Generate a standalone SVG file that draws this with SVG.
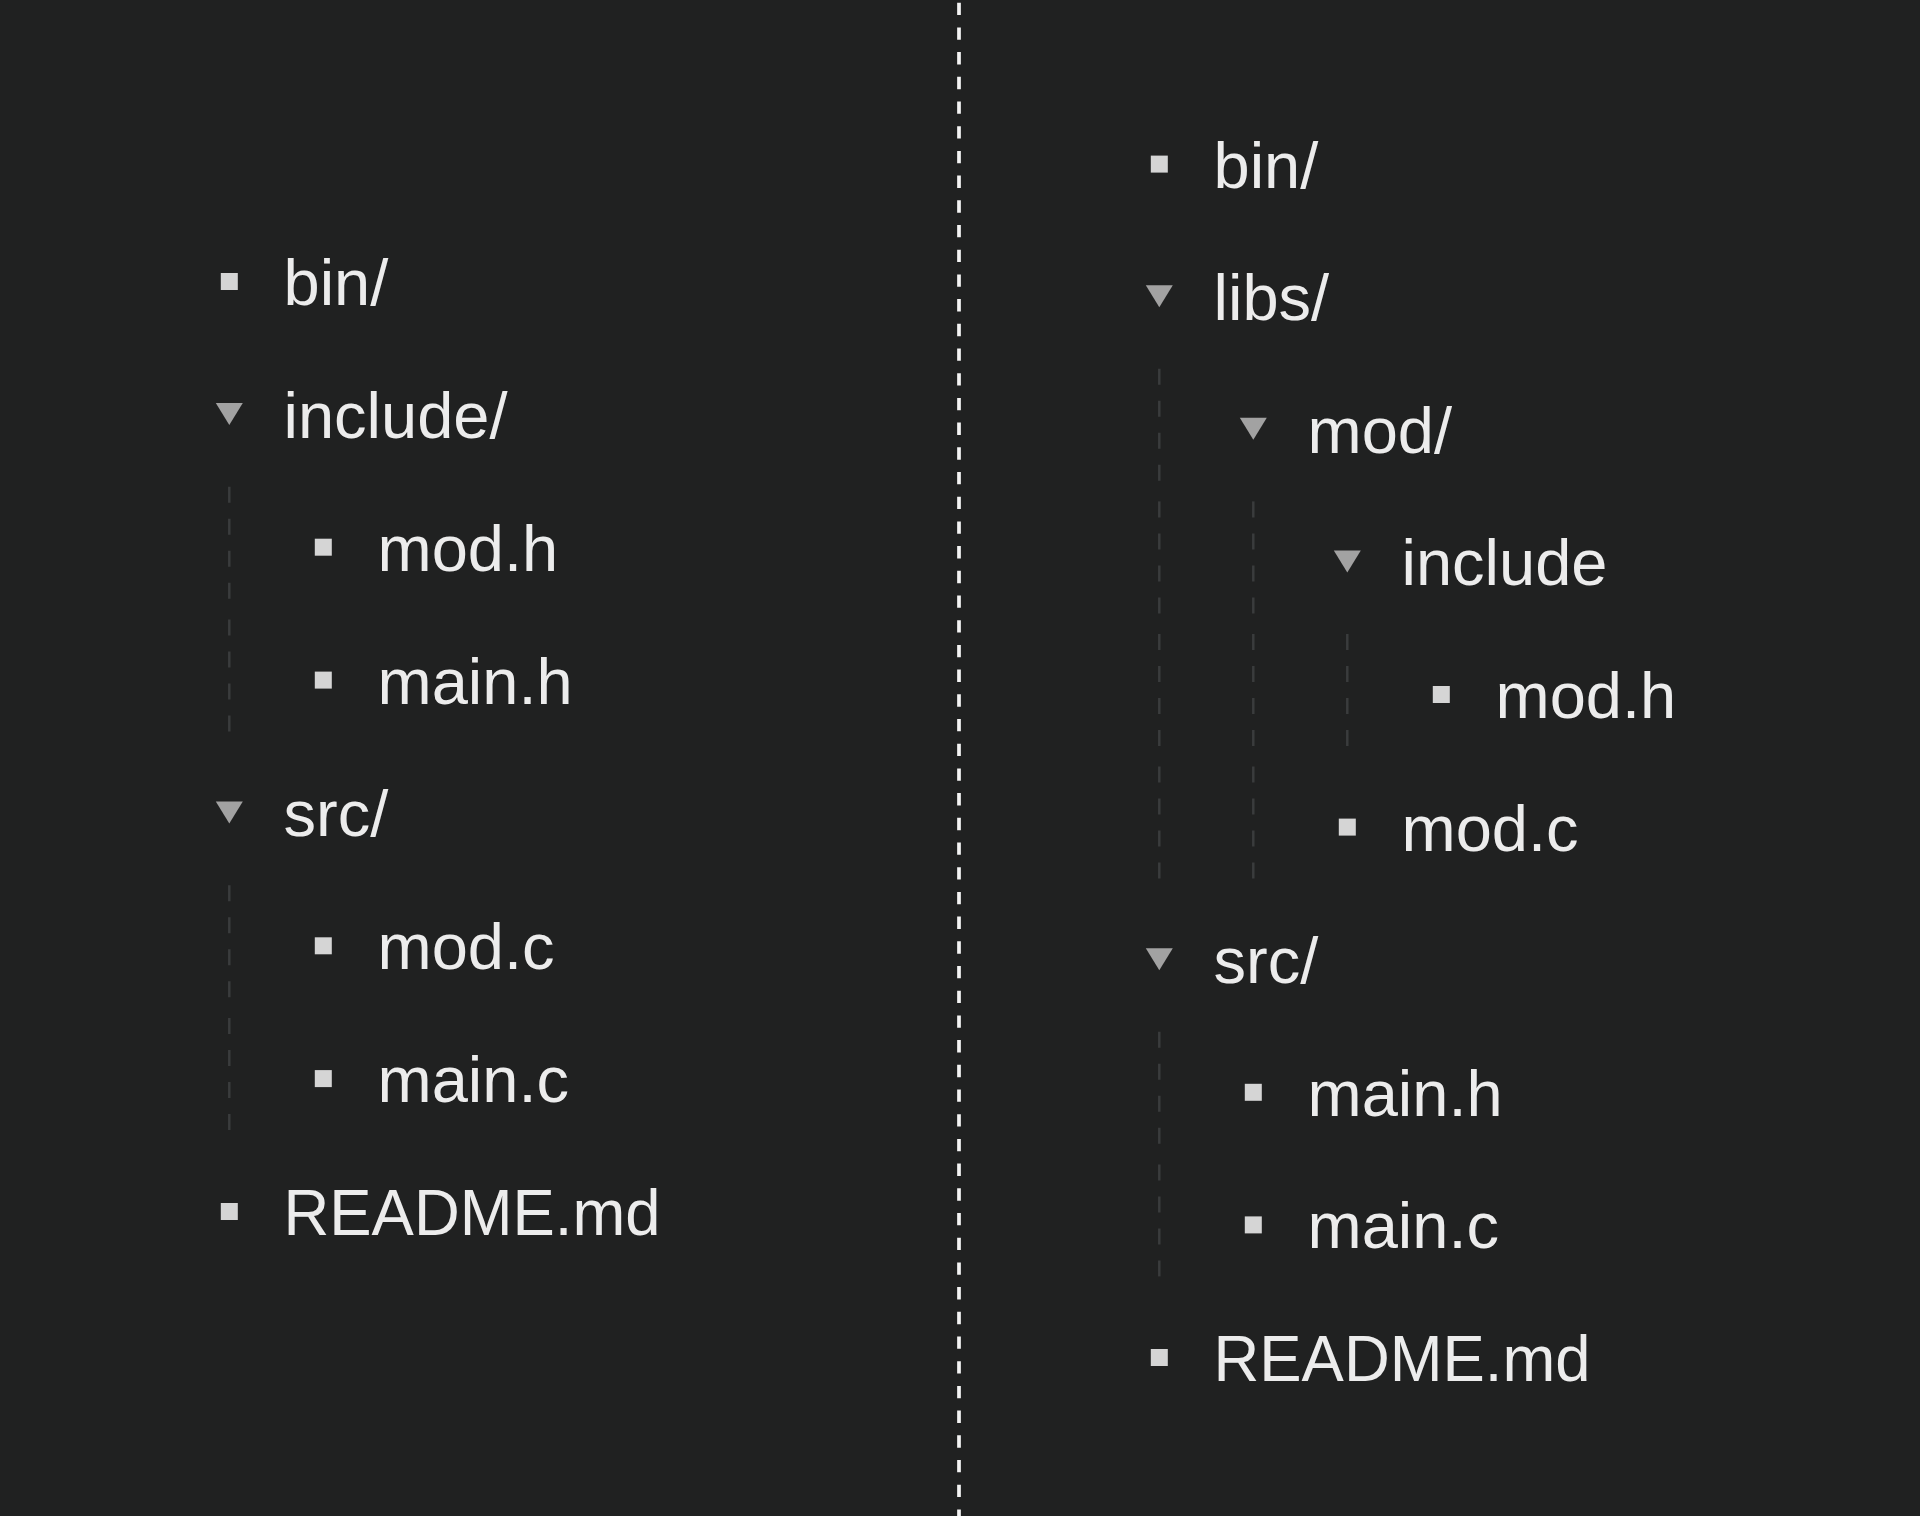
<svg xmlns="http://www.w3.org/2000/svg" width="1920" height="1516" viewBox="0 0 1920 1516">
  <style>
    .lbl { font-family: "Liberation Sans", Arial, sans-serif; font-size: 65px; fill: #ececec; }
    .file { fill: #d5d5d5; }
    .dir { fill: #a2a2a2; }
    .guide { stroke: #3a3c3d; stroke-width: 2.5; stroke-dasharray: 16 16; stroke-dashoffset: 24; fill: none; }
    .sep { stroke: #f4f4f4; stroke-width: 3.7; stroke-dasharray: 12.35 12.35; stroke-dashoffset: 22; }
  </style>
  <rect x="0" y="0" width="1920" height="1516" fill="#202121"/>

  <g id="divider">
    <line class="sep" x1="959" y1="0" x2="959" y2="1516"/>
  </g>

  <g id="connectors">
    <!-- left: include/ children -->
    <line class="guide" x1="229.3" y1="478.7" x2="229.3" y2="610.7"/>
    <line class="guide" x1="229.3" y1="611.6" x2="229.3" y2="743.6"/>
    <!-- left: src/ children -->
    <line class="guide" x1="229.3" y1="877.3" x2="229.3" y2="1009.3"/>
    <line class="guide" x1="229.3" y1="1010.1" x2="229.3" y2="1142.1"/>
    <!-- right: libs/ subtree -->
    <line class="guide" x1="1159.3" y1="360.8" x2="1159.3" y2="492.8"/>
    <line class="guide" x1="1159.3" y1="493.4" x2="1159.3" y2="625.4"/>
    <line class="guide" x1="1159.3" y1="626" x2="1159.3" y2="758"/>
    <line class="guide" x1="1159.3" y1="758.6" x2="1159.3" y2="890.6"/>
    <!-- right: mod/ subtree -->
    <line class="guide" x1="1253.3" y1="493.4" x2="1253.3" y2="625.4"/>
    <line class="guide" x1="1253.3" y1="626" x2="1253.3" y2="758"/>
    <line class="guide" x1="1253.3" y1="758.6" x2="1253.3" y2="890.6"/>
    <!-- right: include subtree -->
    <line class="guide" x1="1347.3" y1="626" x2="1347.3" y2="758"/>
    <!-- right: src/ subtree -->
    <line class="guide" x1="1159.3" y1="1023.8" x2="1159.3" y2="1155.8"/>
    <line class="guide" x1="1159.3" y1="1156.4" x2="1159.3" y2="1288.4"/>
  </g>

  <!-- Left tree -->
  <g id="left-bin">
    <rect class="file" x="220.8" y="273" width="17" height="17"/>
    <text class="lbl" x="283.5" y="305">bin/</text>
  </g>
  <g id="left-include">
    <polygon class="dir" points="215.8,402.9 242.8,402.9 229.3,424.9"/>
    <text class="lbl" x="283.5" y="437.9">include/</text>
  </g>
  <g id="left-include-mod-h">
    <rect class="file" x="314.8" y="538.7" width="17" height="17"/>
    <text class="lbl" x="377.5" y="570.7">mod.h</text>
  </g>
  <g id="left-include-main-h">
    <rect class="file" x="314.8" y="671.6" width="17" height="17"/>
    <text class="lbl" x="377.5" y="703.6">main.h</text>
  </g>
  <g id="left-src">
    <polygon class="dir" points="215.8,801.4 242.8,801.4 229.3,823.4"/>
    <text class="lbl" x="283.5" y="836.4">src/</text>
  </g>
  <g id="left-src-mod-c">
    <rect class="file" x="314.8" y="937.3" width="17" height="17"/>
    <text class="lbl" x="377.5" y="969.3">mod.c</text>
  </g>
  <g id="left-src-main-c">
    <rect class="file" x="314.8" y="1070.1" width="17" height="17"/>
    <text class="lbl" x="377.5" y="1102.1">main.c</text>
  </g>
  <g id="left-readme">
    <rect class="file" x="220.8" y="1203" width="17" height="17"/>
    <text class="lbl" x="283.5" y="1235" textLength="377" lengthAdjust="spacingAndGlyphs">README.md</text>
  </g>

  <!-- Right tree -->
  <g id="right-bin">
    <rect class="file" x="1150.8" y="155.6" width="17" height="17"/>
    <text class="lbl" x="1213.5" y="187.6">bin/</text>
  </g>
  <g id="right-libs">
    <polygon class="dir" points="1145.8,285.2 1172.8,285.2 1159.3,307.2"/>
    <text class="lbl" x="1213.5" y="320.2">libs/</text>
  </g>
  <g id="right-libs-mod">
    <polygon class="dir" points="1239.8,417.8 1266.8,417.8 1253.3,439.8"/>
    <text class="lbl" x="1307.5" y="452.8">mod/</text>
  </g>
  <g id="right-libs-mod-include">
    <polygon class="dir" points="1333.8,550.4 1360.8,550.4 1347.3,572.4"/>
    <text class="lbl" x="1401.5" y="585.4">include</text>
  </g>
  <g id="right-libs-mod-include-mod-h">
    <rect class="file" x="1432.8" y="686" width="17" height="17"/>
    <text class="lbl" x="1495.5" y="718">mod.h</text>
  </g>
  <g id="right-libs-mod-mod-c">
    <rect class="file" x="1338.8" y="818.6" width="17" height="17"/>
    <text class="lbl" x="1401.5" y="850.6">mod.c</text>
  </g>
  <g id="right-src">
    <polygon class="dir" points="1145.8,948.2 1172.8,948.2 1159.3,970.2"/>
    <text class="lbl" x="1213.5" y="983.2">src/</text>
  </g>
  <g id="right-src-main-h">
    <rect class="file" x="1244.8" y="1083.8" width="17" height="17"/>
    <text class="lbl" x="1307.5" y="1115.8">main.h</text>
  </g>
  <g id="right-src-main-c">
    <rect class="file" x="1244.8" y="1216.4" width="17" height="17"/>
    <text class="lbl" x="1307.5" y="1248.4">main.c</text>
  </g>
  <g id="right-readme">
    <rect class="file" x="1150.8" y="1349" width="17" height="17"/>
    <text class="lbl" x="1213.5" y="1381" textLength="377" lengthAdjust="spacingAndGlyphs">README.md</text>
  </g>
</svg>
